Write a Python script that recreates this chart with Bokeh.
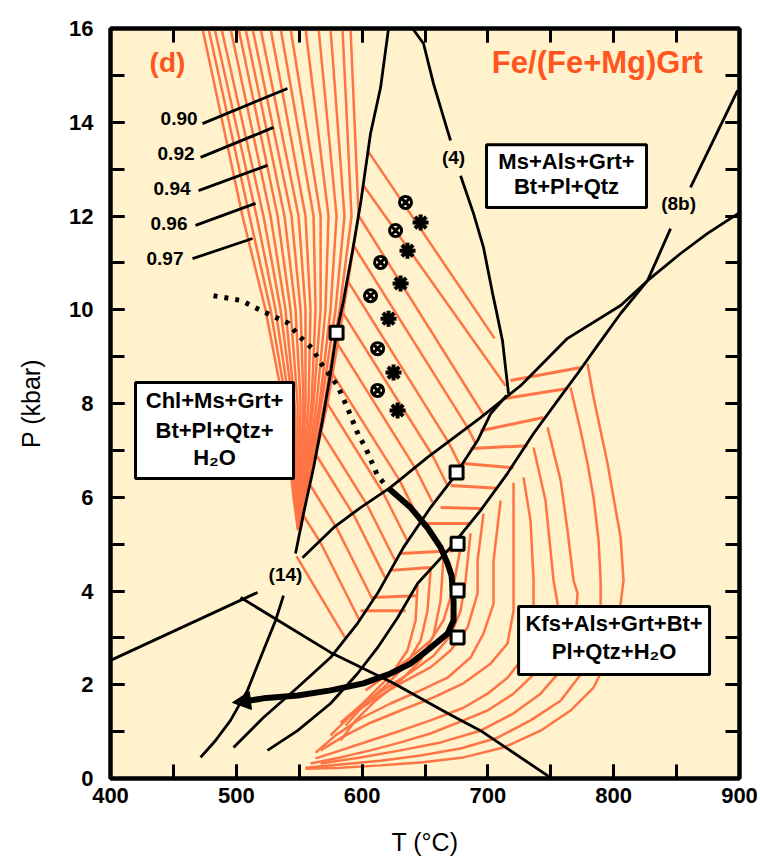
from bokeh.plotting import figure
from bokeh.models import (LinearAxis, FixedTicker, BoxAnnotation, Label, Arrow,
                          NormalHead, Range1d)
from bokeh.embed import file_html
from bokeh.resources import INLINE

# ---------------- data (T in degC, P in kbar) ----------------
X_MAJOR = [400, 500, 600, 700, 800, 900]
X_MINOR = [400, 450, 500, 550, 600, 650, 700, 750, 800, 850, 900]
Y_MAJOR = [0, 2, 4, 6, 8, 10, 12, 14, 16]
Y_MINOR = list(range(0, 17))

# reaction line through (14) (upper and lower part, gap for label)
B_T = [621.0, 614.7, 606.7, 598.8, 592.4, 585.2, 579.7, 574.9, 568.5, 561.4, 553.4, 547.1]
B_P = [16.0, 14.74, 13.76, 12.27, 11.26, 10.19, 9.51, 8.64, 7.64, 6.63, 5.65, 4.80]
B2_T = [537.5, 531.2, 519.3, 508.9, 495.4, 483.5, 471.6]
B2_P = [3.90, 3.37, 2.58, 1.88, 1.24, 0.81, 0.45]
# reaction (4)
R4A_T = [640.1, 648.8, 656.8, 667.9, 670.3]
R4A_P = [16.0, 15.68, 14.82, 13.82, 13.61]
R4B_T = [678.3, 688.6, 696.5, 703.7, 706.1, 711.6, 714.0, 716.4]
R4B_P = [12.86, 12.05, 11.33, 10.35, 10.05, 9.34, 8.77, 8.21]
# other reaction lines
LL_T = [400.0, 516.9]
LL_P = [2.52, 3.97]
LX_T = [503.4, 574.9, 625.0, 667.9, 694.2, 749.8]
LX_P = [3.86, 2.69, 2.03, 1.39, 1.02, 0.02]
D_T = [497.8, 521.6, 548.7, 574.9, 596.4, 612.3, 632.9, 654.4, 672.7, 691.8, 702.1, 714.8]
D_P = [0.66, 1.30, 1.94, 2.58, 3.31, 3.95, 4.93, 5.78, 6.42, 7.21, 7.78, 8.17]
C1_T = [524.8, 548.7, 574.9, 596.4, 612.3, 628.2, 644.1, 670.3, 694.2, 715.6, 736.3,
        755.4, 771.3, 787.2, 805.5, 826.9, 845.2]
C1_P = [0.60, 1.02, 1.60, 2.24, 2.79, 3.43, 4.16, 4.93, 5.72, 6.51, 7.36,
        8.06, 8.64, 9.24, 9.92, 10.62, 11.73]
C1B_T = [861.1, 898.5]
C1B_P = [12.61, 14.68]
C2_T = [552.6, 577.3, 598.8, 622.6, 652.0, 694.2, 726.0, 763.3, 805.5, 826.9, 853.2, 874.6, 900.0]
C2_P = [4.71, 5.35, 5.78, 6.21, 6.85, 7.70, 8.38, 9.39, 10.09, 10.62, 11.20, 11.63, 12.07]

# P-T path
DOT_T = [481.9, 503.4, 523.2, 541.5, 549.5, 560.6, 567.0, 580.5, 589.2, 597.2, 602.7, 612.3, 621.0]
DOT_P = [10.30, 10.20, 9.94, 9.71, 9.45, 9.17, 8.87, 8.38, 7.85, 7.32, 7.06, 6.46, 6.19]
PATH_T = [621.0, 638.5, 652.0, 662.4, 667.9, 671.1, 672.7, 672.7, 667.9, 654.4, 638.5,
          622.6, 601.1, 574.9, 548.7, 521.6, 510.0]
PATH_P = [6.19, 5.78, 5.35, 4.93, 4.59, 4.33, 3.80, 3.37, 3.09, 2.79, 2.45,
          2.24, 2.03, 1.88, 1.77, 1.71, 1.66]
ARROW_TIP_T, ARROW_TIP_P = 497.0, 1.62
SQ_T = [579.7, 675.1, 675.9, 675.9, 675.9]
SQ_P = [9.51, 6.53, 5.01, 4.01, 3.01]
# garnet symbols
GA_T = [634.5, 626.6, 614.7, 606.7, 612.3, 612.3]
GA_P = [12.29, 11.69, 11.01, 10.30, 9.17, 8.28]
GB_T = [646.5, 636.1, 630.6, 621.0, 625.0, 628.2]
GB_P = [11.86, 11.26, 10.56, 9.81, 8.66, 7.85]

# Fe/(Fe+Mg) isopleths, high-P field (T read at fixed P levels)
R1_LEVELS = [16, 12, 10, 8, 6, 5.3]
R1_T16 = [473.1, 477.9, 482.7, 488.2, 495.4, 501.8, 507.3, 512.9, 519.3, 527.2, 535.2, 543.1, 555.0, 565.4, 574.9, 584.4, 590.8]
R1_T12 = [504.9, 510.5, 516.1, 521.6, 527.2, 532.8, 538.3, 543.9, 549.5, 555.0, 561.4, 567.0, 573.3, 579.7, 586.0, 591.6, 597.2]
R1_T10 = [523.2, 527.2, 531.2, 535.2, 539.1, 543.1, 547.1, 551.1, 555.0, 559.0, 563.0, 567.0, 570.9, 574.9, 578.9, 582.1, 585.2]
R1_T8 = [537.5, 539.9, 542.3, 544.7, 546.3, 548.7, 551.1, 553.4, 555.0, 557.4, 559.8, 561.4, 563.8, 566.2, 567.7, 570.1, 572.5]
R1_T6 = [545.5, 546.3, 547.1, 547.9, 548.7, 548.7, 549.5, 550.3, 551.1, 551.1, 551.8, 552.6, 553.4, 553.4, 554.2, 555.0, 555.8]
R1_T5 = [549.0, 549.2, 549.4, 549.6, 549.8, 550.0, 550.1, 550.2, 550.3, 550.4, 550.5, 550.6, 550.7, 550.8, 550.9, 551.0, 551.1]

# isopleths between the (14) line and line C2
R2_T1 = [604.3, 601.1, 597.2, 593.2, 588.4, 583.6, 578.9, 574.9, 570.9, 567.0, 563.8, 559.0, 553.4]
R2_P1 = [13.40, 12.65, 12.01, 11.37, 10.62, 9.98, 9.34, 8.70, 8.06, 7.42, 6.89, 6.25, 5.61]
R2_T2 = [705.3, 714.0, 696.5, 683.8, 668.7, 656.0, 642.5, 629.8, 617.0, 604.3, 594.0, 580.5, 567.0]
R2_P2 = [9.39, 8.38, 7.76, 7.49, 7.17, 6.89, 6.61, 6.36, 6.08, 5.82, 5.59, 5.31, 5.03]
# isopleths between C2 and D
R3_T1 = [683.8, 668.7, 656.0, 642.5, 629.8, 617.0, 604.3, 594.0, 580.5, 567.0, 547.9]
R3_P1 = [7.49, 7.17, 6.89, 6.61, 6.36, 6.08, 5.82, 5.59, 5.31, 5.03, 4.74]
R3_T2 = [690.2, 678.3, 667.9, 656.0, 646.5, 636.1, 626.6, 618.6, 608.3, 598.0, 586.8]
R3_P2 = [7.15, 6.66, 6.25, 5.89, 5.46, 5.06, 4.63, 4.27, 3.82, 3.37, 2.99]
# near-horizontal isopleths between D/C2 and C1
R4_T1 = [718.0, 714.0, 694.2, 686.2, 680.6, 670.3, 662.4, 648.8, 630.6, 622.6, 606.7, 598.8]
R4_P1 = [8.49, 8.11, 7.42, 7.04, 6.72, 6.25, 5.78, 5.44, 4.80, 4.44, 3.86, 3.58]
R4_T2 = [773.7, 763.3, 744.2, 731.5, 720.4, 707.7, 694.2, 686.2, 672.7, 654.4, 644.1, 634.5]
R4_P2 = [8.77, 8.32, 7.70, 7.10, 6.63, 6.19, 5.76, 5.44, 4.86, 4.50, 3.90, 3.58]
# curved isopleths right of C1
ARC_T = [
    [779.2, 784.0, 789.6, 795.1, 799.9, 805.5, 807.8, 805.5, 797.5, 784.0, 765.7, 741.9, 712.4, 680.6, 646.5, 614.7, 582.9, 555.0],
    [765.7, 773.7, 779.2, 784.0, 788.0, 789.6, 789.6, 784.0, 776.0, 757.8, 733.9, 707.7, 678.3, 646.5, 614.7, 582.9, 555.0],
    [747.4, 757.8, 763.3, 768.1, 771.3, 768.1, 757.8, 741.9, 720.4, 694.2, 662.4, 630.6, 598.8, 567.0],
    [736.3, 745.8, 752.2, 755.4, 749.8, 739.5, 720.4, 699.7, 680.6, 654.4, 630.6, 606.7, 582.9, 559.0],
    [728.3, 733.9, 736.3, 736.3, 728.3, 715.6, 699.7, 680.6, 654.4, 630.6, 606.7, 582.9, 563.0],
    [720.4, 720.4, 720.4, 715.6, 702.1, 680.6, 656.8, 630.6, 606.7, 586.8, 567.0],
    [710.1, 704.5, 704.5, 696.5, 686.2, 667.9, 646.5, 622.6, 598.8, 578.9, 563.0],
    [696.5, 691.8, 691.8, 683.8, 670.3, 654.4, 630.6, 610.7, 590.8, 574.9],
    [686.2, 682.2, 678.3, 670.3, 656.8, 638.5, 618.6, 598.8, 582.9],
    [678.3, 671.9, 664.7, 654.4, 638.5, 622.6, 602.7],
    [664.7, 662.4, 656.8, 646.5, 630.6, 610.7, 594.8, 582.9],
    [654.4, 652.0, 646.5, 634.5, 618.6, 601.1, 586.8],
    [644.1, 642.5, 636.1, 622.6, 606.7, 590.8],
]
ARC_P = [
    [8.85, 8.13, 7.42, 6.72, 5.99, 5.14, 4.22, 3.73, 2.67, 1.94, 1.45, 1.02, 0.66, 0.45, 0.34, 0.28, 0.23, 0.21],
    [8.34, 7.42, 6.72, 5.99, 5.08, 4.22, 3.73, 2.88, 2.30, 1.66, 1.24, 0.87, 0.64, 0.49, 0.38, 0.30, 0.23],
    [7.49, 6.36, 5.29, 4.22, 3.95, 3.01, 2.30, 1.81, 1.39, 1.02, 0.77, 0.60, 0.45, 0.32],
    [7.06, 5.93, 4.22, 3.73, 2.88, 2.30, 1.81, 1.45, 1.24, 0.96, 0.77, 0.60, 0.45, 0.32],
    [6.42, 5.50, 4.22, 3.22, 2.58, 2.15, 1.81, 1.51, 1.24, 1.02, 0.81, 0.60, 0.43],
    [6.31, 5.29, 3.58, 2.88, 2.45, 2.03, 1.73, 1.45, 1.19, 0.92, 0.60],
    [5.93, 4.65, 3.73, 3.09, 2.58, 2.15, 1.88, 1.60, 1.28, 0.92, 0.55],
    [5.65, 4.65, 3.95, 3.22, 2.73, 2.37, 2.03, 1.71, 1.34, 0.92],
    [5.23, 4.22, 3.58, 3.05, 2.62, 2.26, 1.92, 1.56, 1.19],
    [4.93, 4.01, 3.37, 2.94, 2.58, 2.26, 1.88],
    [4.71, 3.80, 3.05, 2.52, 2.09, 1.66, 1.24, 0.81],
    [4.44, 3.58, 2.94, 2.41, 1.98, 1.56, 1.13],
    [4.12, 3.37, 2.73, 2.20, 1.77, 1.34],
]

# isopleth value labels and their leaders
ISO_LABELS = ["0.90", "0.92", "0.94", "0.96", "0.97"]
ISO_LAB_T = [469.2, 466.8, 463.6, 461.2, 458.0]
ISO_LAB_P = [14.08, 13.33, 12.58, 11.84, 11.09]
LEAD_T1 = [473.1, 471.6, 470.0, 467.6, 465.2]
LEAD_P1 = [13.97, 13.25, 12.54, 11.80, 11.09]
LEAD_T2 = [540.7, 529.6, 524.8, 515.3, 512.9]
LEAD_P2 = [14.72, 13.89, 13.08, 12.27, 11.52]

# ---------------- styling ----------------
ORANGE = "#FF7445"
TITLE_RED = "#FF5520"
BG = "#FFF2CC"
FONT = "Liberation Sans"

p = figure(frame_width=629, frame_height=750,
           x_range=Range1d(400, 900), y_range=Range1d(0, 16),
           output_backend="svg", toolbar_location=None,
           min_border_left=110, min_border_right=19, min_border_top=28, min_border_bottom=80,
           background_fill_color=BG, border_fill_color="white",
           outline_line_color="black", outline_line_width=4)
p.xgrid.visible = False
p.ygrid.visible = False

def style_axis(ax, ticks, minor, show_labels=True):
    ax.ticker = FixedTicker(ticks=ticks, minor_ticks=minor)
    ax.axis_line_width = 4
    ax.axis_line_color = "black"
    ax.major_tick_in = 14
    ax.major_tick_out = 0
    ax.minor_tick_in = 14
    ax.minor_tick_out = 0
    ax.major_tick_line_width = 3
    ax.minor_tick_line_width = 3
    ax.major_tick_line_color = "black"
    ax.minor_tick_line_color = "black"
    ax.major_label_text_font = FONT
    ax.major_label_text_font_style = "bold"
    ax.major_label_text_color = "black"
    if show_labels:
        ax.major_label_text_font_size = "22px"
    else:
        ax.major_label_text_font_size = "1px"
        ax.major_label_text_alpha = 0
        ax.major_label_standoff = 0

style_axis(p.xaxis[0], X_MAJOR, X_MINOR)
style_axis(p.yaxis[0], Y_MAJOR, Y_MINOR)
p.xaxis.major_label_standoff = 9
p.yaxis.major_label_standoff = 17
p.xaxis.axis_label = "T (°C)"
p.yaxis.axis_label = "P (kbar)"
for ax in (p.xaxis[0], p.yaxis[0]):
    ax.axis_label_text_font = FONT
    ax.axis_label_text_font_size = "25px"
    ax.axis_label_text_font_style = "normal"
    ax.axis_label_text_color = "black"
p.xaxis.axis_label_standoff = 22
p.yaxis.axis_label_standoff = 21

top_ax = LinearAxis()
style_axis(top_ax, X_MAJOR, X_MINOR, show_labels=False)
p.add_layout(top_ax, "above")
right_ax = LinearAxis()
style_axis(right_ax, Y_MAJOR, Y_MINOR, show_labels=False)
p.add_layout(right_ax, "right")

# ---------------- orange isopleths ----------------
r1_xs = [[R1_T16[i], R1_T12[i], R1_T10[i], R1_T8[i], R1_T6[i], R1_T5[i]] for i in range(len(R1_T16))]
r1_ys = [R1_LEVELS for _ in range(len(R1_T16))]
p.multi_line(r1_xs, r1_ys, line_color=ORANGE, line_width=2.5)
p.segment(R2_T1, R2_P1, R2_T2, R2_P2, line_color=ORANGE, line_width=2.5)
p.segment(R3_T1, R3_P1, R3_T2, R3_P2, line_color=ORANGE, line_width=2.5)
p.segment(R4_T1, R4_P1, R4_T2, R4_P2, line_color=ORANGE, line_width=3)
p.multi_line(ARC_T, ARC_P, line_color=ORANGE, line_width=2.5)

# ---------------- black reaction lines ----------------
blk = dict(line_color="black", line_width=2.8)
for xs, ys in [(B_T, B_P), (B2_T, B2_P), (R4A_T, R4A_P), (R4B_T, R4B_P), (LL_T, LL_P),
               (LX_T, LX_P), (D_T, D_P), (C1_T, C1_P), (C1B_T, C1B_P), (C2_T, C2_P)]:
    p.line(xs, ys, **blk)
p.segment(LEAD_T1, LEAD_P1, LEAD_T2, LEAD_P2, line_color="black", line_width=2.8)

# ---------------- P-T path ----------------
p.line(DOT_T, DOT_P, line_color="black", line_width=5, line_dash="4 7")
p.line(PATH_T, PATH_P, line_color="black", line_width=6, line_join="round")
p.add_layout(Arrow(end=NormalHead(size=18, fill_color="black", line_color="black"),
                   x_start=PATH_T[-1], y_start=PATH_P[-1], x_end=ARROW_TIP_T, y_end=ARROW_TIP_P,
                   line_color="black", line_width=6))
p.scatter(SQ_T, SQ_P, marker="square", size=13, fill_color="white", line_color="black", line_width=3)
p.scatter(GA_T, GA_P, marker="circle_x", size=12, fill_color=BG, line_color="black", line_width=3)
p.scatter(GB_T, GB_P, marker="asterisk", size=16, line_color="black", line_width=4)

# ---------------- boxes & labels ----------------
for l, r, t, b in [(419.9, 545.5, 8.45, 6.40), (698.9, 826.1, 13.52, 12.18), (724.4, 876.2, 3.67, 2.22)]:
    p.add_layout(BoxAnnotation(left=l, right=r, top=t, bottom=b, fill_color="white", fill_alpha=1,
                               line_color="black", line_width=3, line_alpha=1))

def lab(x, y, text, size="22px", color="black", align="center", style="bold"):
    p.add_layout(Label(x=x, y=y, text=text, text_font=FONT, text_font_size=size,
                       text_font_style=style, text_color=color, text_align=align,
                       text_baseline="middle"))

lab(482.7, 8.07, "Chl+Ms+Grt+")
lab(482.7, 7.42, "Bt+Pl+Qtz+")
lab(482.7, 6.85, "H₂O")
lab(762.5, 13.16, "Ms+Als+Grt+")
lab(762.5, 12.62, "Bt+Pl+Qtz")
lab(800.3, 3.31, "Kfs+Als+Grt+Bt+")
lab(800.3, 2.72, "Pl+Qtz+H₂O")

lab(672.7, 13.25, "(4)", size="19px")
lab(851.6, 12.27, "(8b)", size="19px")
lab(539.1, 4.35, "(14)", size="19px")
for t, x, y in zip(ISO_LABELS, ISO_LAB_T, ISO_LAB_P):
    lab(x, y, t, size="19px", align="right")

lab(445.3, 15.27, "(d)", size="28px", color=TITLE_RED)
lab(787.0, 15.27, "Fe/(Fe+Mg)Grt", size="31px", color=TITLE_RED)

open("out.html", "w").write(file_html(p, INLINE))
